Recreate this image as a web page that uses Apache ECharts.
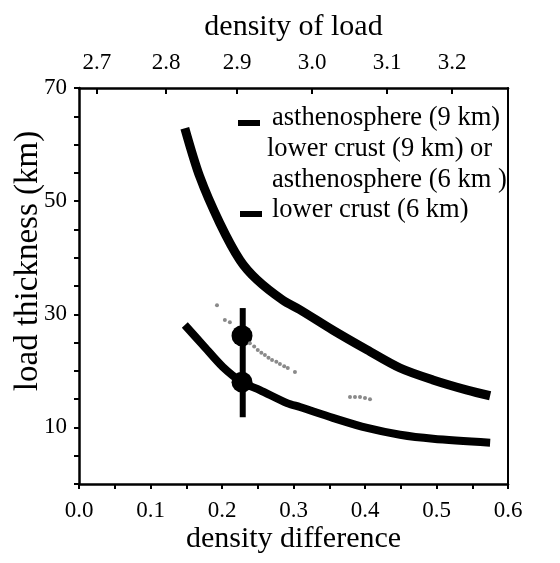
<!DOCTYPE html>
<html>
<head>
<meta charset="utf-8">
<script src="https://cdn.jsdelivr.net/npm/echarts@6/dist/echarts.min.js"></script>
<style>html,body{margin:0;padding:0;background:#fff}#c{width:560px;height:563px}</style>
</head>
<body>
<div id="c"></div>
<script>
// ---- data ----
var upperX = [0.148, 0.169, 0.197, 0.225, 0.249, 0.285, 0.309, 0.355, 0.403, 0.449, 0.495, 0.543, 0.575];
var upperY = [62.9, 54.3, 46.1, 39.6, 36.1, 32.5, 30.8, 27.2, 23.7, 20.5, 18.4, 16.6, 15.6];
var lowerX = [0.148, 0.173, 0.201, 0.228, 0.253, 0.291, 0.309, 0.355, 0.403, 0.449, 0.495, 0.575];
var lowerY = [28.1, 24.6, 20.7, 18.0, 16.6, 14.3, 13.6, 11.7, 9.9, 8.7, 8.0, 7.3];
var dotX = [0.228, 0.228];
var dotY = [26.2, 18.0];
var barX = [0.229, 0.229];
var barY = [31.1, 11.8];
var grayX = [0.193, 0.204, 0.211, 0.239, 0.245, 0.25, 0.255, 0.26, 0.265, 0.27, 0.276, 0.281, 0.287, 0.292, 0.302, 0.379, 0.386, 0.393, 0.4, 0.407];
var grayY = [31.6, 29.0, 28.6, 24.9, 24.3, 23.7, 23.2, 22.8, 22.3, 21.9, 21.6, 21.2, 20.8, 20.5, 19.8, 15.4, 15.4, 15.4, 15.2, 15.0];
var topTickPos = [0.025, 0.122, 0.221, 0.326, 0.431, 0.522];
var topTickLabels = ['2.7', '2.8', '2.9', '3.0', '3.1', '3.2'];
var yLabelValues = [10, 30, 50, 70];
var legendLabels = ['asthenosphere (9 km)', 'lower crust (9 km) or', 'asthenosphere (6 km )', 'lower crust (6 km)'];

function zip(xs, ys) { return xs.map(function (x, i) { return [x, ys[i]]; }); }

var FONT = 'Liberation Serif';
var LFONT = '26.5px "Liberation Serif"';
var chart = echarts.init(document.getElementById('c'), null, { renderer: 'canvas' });
var option = {
  animation: false,
  backgroundColor: '#fff',
  grid: { left: 79, right: 52, top: 88, bottom: 79, outerBoundsMode: 'none', containLabel: false },
  xAxis: [{
    type: 'value', position: 'bottom', min: 0, max: 0.6, interval: 0.05,
    name: 'density difference', nameLocation: 'middle', nameGap: 40, nameMoveOverlap: false,
    nameTextStyle: { fontFamily: FONT, fontSize: 30, color: '#000' },
    axisLine: { onZero: false, lineStyle: { color: '#000', width: 2.5 } },
    axisTick: { length: 5, lineStyle: { color: '#000', width: 2 } },
    axisLabel: {
      fontFamily: FONT, fontSize: 23, color: '#000', margin: 15,
      formatter: function (v) { var r = Math.round(v * 100); return r % 10 === 0 ? (r / 100).toFixed(1) : ''; }
    },
    splitLine: { show: false }
  }, {
    type: 'value', position: 'top', min: 0, max: 0.6,
    name: 'density of load', nameLocation: 'middle', nameGap: 46, nameMoveOverlap: false,
    nameTextStyle: { fontFamily: FONT, fontSize: 30, color: '#000' },
    axisLine: { onZero: false, lineStyle: { color: '#000', width: 2.5 } },
    axisTick: { inside: true, length: 6, customValues: topTickPos, lineStyle: { color: '#000', width: 2 } },
    axisLabel: {
      fontFamily: FONT, fontSize: 23, color: '#000', margin: 14, customValues: topTickPos,
      formatter: function (v) {
        for (var i = 0; i < topTickPos.length; i++) if (Math.abs(topTickPos[i] - v) < 1e-6) return topTickLabels[i];
        return '';
      }
    },
    splitLine: { show: false }
  }],
  yAxis: [{
    type: 'value', position: 'left', min: 0, max: 70, interval: 5,
    name: 'load thickness (km)', nameLocation: 'middle', nameGap: 34, nameMoveOverlap: false,
    nameTextStyle: { fontFamily: FONT, fontSize: 33, color: '#000', padding: [0, 0, 0, 50] },
    axisLine: { onZero: false, lineStyle: { color: '#000', width: 2.5 } },
    axisTick: { length: 5, lineStyle: { color: '#000', width: 2 } },
    axisLabel: {
      fontFamily: FONT, fontSize: 23, color: '#000', margin: 12,
      formatter: function (v) { return yLabelValues.indexOf(v) >= 0 ? String(v) : ''; }
    },
    splitLine: { show: false }
  }, {
    type: 'value', position: 'right', min: 0, max: 70,
    axisLine: { show: true, onZero: false, lineStyle: { color: '#000', width: 2 } },
    axisTick: { show: false }, axisLabel: { show: false }, splitLine: { show: false }
  }],
  series: [{
    type: 'line', data: zip(upperX, upperY), smooth: 0.3, showSymbol: false,
    lineStyle: { color: '#000', width: 9 }
  }, {
    type: 'line', data: zip(lowerX, lowerY), smooth: 0.3, showSymbol: false,
    lineStyle: { color: '#000', width: 8 }
  }, {
    type: 'line', data: zip(barX, barY), showSymbol: false,
    lineStyle: { color: '#000', width: 6, cap: 'butt' }
  }, {
    type: 'scatter', data: zip(dotX, dotY), symbolSize: 21,
    itemStyle: { color: '#000', opacity: 1 }
  }, {
    type: 'scatter', data: zip(grayX, grayY), symbolSize: 4,
    itemStyle: { color: '#8a8a8a', opacity: 1 }
  }],
  graphic: [
    { type: 'rect', shape: { x: 238, y: 120, width: 22, height: 6 }, style: { fill: '#000' } },
    { type: 'text', x: 272, y: 118, style: { text: legendLabels[0], font: LFONT, fill: '#000', verticalAlign: 'middle' } },
    { type: 'text', x: 267, y: 149, style: { text: legendLabels[1], font: LFONT, fill: '#000', verticalAlign: 'middle' } },
    { type: 'text', x: 272, y: 180, style: { text: legendLabels[2], font: LFONT, fill: '#000', verticalAlign: 'middle' } },
    { type: 'rect', shape: { x: 240, y: 211, width: 22, height: 6 }, style: { fill: '#000' } },
    { type: 'text', x: 272, y: 210, style: { text: legendLabels[3], font: LFONT, fill: '#000', verticalAlign: 'middle' } }
  ]
};
chart.setOption(option);
</script>
</body>
</html>
